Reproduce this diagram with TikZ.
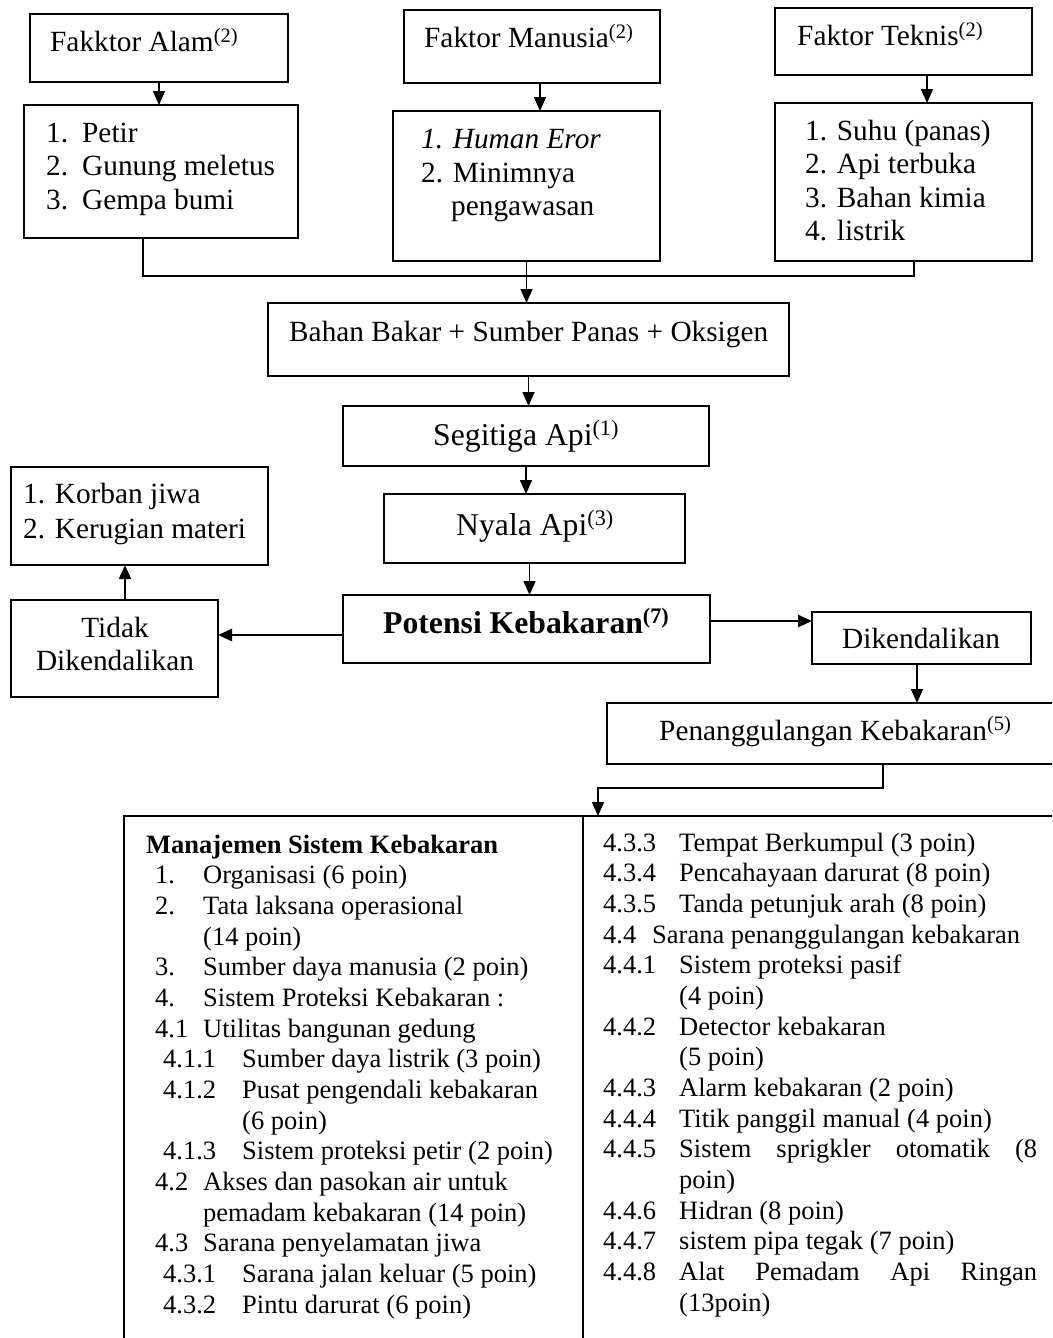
\documentclass[tikz,border=0pt]{standalone}
\usepackage{fontspec}
\setmainfont{Liberation Serif}
\usetikzlibrary{arrows.meta,calc}
\newcommand\sups[1]{\textsuperscript{#1}}
\begin{document}
\begin{tikzpicture}[x=1pt,y=-1pt,
  box/.style={draw,line width=1.7pt,inner sep=0pt,outer sep=0pt},
  tx/.style={anchor=base west,inner sep=0pt,font=\fontsize{29.3}{33}\selectfont},
  txc/.style={anchor=base,inner sep=0pt,font=\fontsize{29.3}{33}\selectfont},
  bigt/.style={anchor=base west,inner sep=0pt,font=\fontsize{31.7}{36}\selectfont},
  sm/.style={anchor=base west,inner sep=0pt,font=\fontsize{26.5}{30}\selectfont},
  arr/.style={-{Triangle[length=14pt,width=12pt]},line width=1.6pt},
  ln/.style={line width=1.6pt}]
\useasboundingbox (0,0) rectangle (1052,1338);
\fill[white] (0,0) rectangle (1052,1338);
\clip (0,0) rectangle (1052,1338);

% ---- boxes
\node[box,minimum width=258pt,minimum height=68pt] (alam) at (159,48) {};
\node[box,minimum width=274pt,minimum height=133pt] (alamL) at (161,171.5) {};
\node[box,minimum width=256pt,minimum height=73pt] (manusia) at (532,46.5) {};
\node[box,minimum width=267pt,minimum height=150pt] (manusiaL) at (526.5,186) {};
\node[box,minimum width=257pt,minimum height=67pt] (teknis) at (903.5,41.5) {};
\node[box,minimum width=257pt,minimum height=158pt] (teknisL) at (903.5,182) {};
\node[box,minimum width=521pt,minimum height=73pt] (bahan) at (528.5,339.5) {};
\node[box,minimum width=366pt,minimum height=60pt] (segitiga) at (526,436) {};
\node[box,minimum width=301pt,minimum height=69pt] (nyala) at (534.5,528.5) {};
\node[box,minimum width=367pt,minimum height=68pt] (potensi) at (526.5,629) {};
\node[box,minimum width=257pt,minimum height=98pt] (korban) at (139.5,516) {};
\node[box,minimum width=207pt,minimum height=97pt] (tidak) at (114.5,648.5) {};
\node[box,minimum width=219pt,minimum height=52pt] (diken) at (921.5,638) {};
\node[box,minimum width=463pt,minimum height=61pt] (penang) at (838.5,733.5) {};
\node[box,minimum width=459pt,minimum height=600pt] (tabL) at (353.5,1116) {};
\node[box,minimum width=500pt,minimum height=600pt] (tabR) at (833,1116) {};

% ---- texts in boxes
\node[tx] (alamT) at (50,52) {Fakktor Alam\sups{(2)}};
\node[tx] (alam1n) at (46,142) {1.};
\node[tx] (alam1t) at (82,142) {Petir};
\node[tx] (alam2n) at (46,175) {2.};
\node[tx] (alam2t) at (82,175) {Gunung meletus};
\node[tx] (alam3n) at (46,209) {3.};
\node[tx] (alam3t) at (82,209) {Gempa bumi};

\node[tx] (manT) at (424,48) {Faktor Manusia\sups{(2)}};
\node[tx] (man1) at (421,148) {\itshape 1. Human Eror};
\node[tx] (man2) at (421,182) {2. Minimnya};
\node[tx] (man3) at (451,215) {pengawasan};

\node[tx] (tekT) at (797,46) {Faktor Teknis\sups{(2)}};
\node[tx] (tek1) at (805,140) {1. Suhu (panas)};
\node[tx] (tek2) at (805,173) {2. Api terbuka};
\node[tx] (tek3) at (805,207) {3. Bahan kimia};
\node[tx] (tek4) at (805,240) {4. listrik};

\node[tx] (bahanT) at (289,341) {Bahan Bakar + Sumber Panas + Oksigen};
\node[bigt] (segT) at (433,445) {Segitiga Api\sups{(1)}};
\node[bigt] (nyalaT) at (456,535) {Nyala Api\sups{(3)}};
\node[bigt] (potT) at (383,633) {\bfseries Potensi Kebakaran\sups{(7)}};
\node[tx] (kor1) at (23,503) {1. Korban jiwa};
\node[tx] (kor2) at (23,538) {2. Kerugian materi};
\node[txc] (tid1) at (115,637) {Tidak};
\node[txc] (tid2) at (115,670) {Dikendalikan};
\node[tx] (dikT) at (842,648) {Dikendalikan};
\node[tx] (penT) at (659,740) {Penanggulangan Kebakaran\sups{(5)}};

% ---- left column of the table
\node[sm] (l0) at (146,853) {\bfseries Manajemen Sistem Kebakaran};
\node[sm] (l1n) at (155,883.7) {1.};
\node[sm] (l1t) at (203,883.7) {Organisasi (6 poin)};
\node[sm] (l2n) at (155,914.3) {2.};
\node[sm] (l2t) at (203,914.3) {Tata laksana operasional};
\node[sm] (l3t) at (203,945) {(14 poin)};
\node[sm] (l4n) at (155,975.7) {3.};
\node[sm] (l4t) at (203,975.7) {Sumber daya manusia (2 poin)};
\node[sm] (l5n) at (155,1006.4) {4.};
\node[sm] (l5t) at (203,1006.4) {Sistem Proteksi Kebakaran :};
\node[sm] (l6n) at (155,1037) {4.1};
\node[sm] (l6t) at (203,1037) {Utilitas bangunan gedung};
\node[sm] (l7n) at (163,1067.7) {4.1.1};
\node[sm] (l7t) at (242,1067.7) {Sumber daya listrik (3 poin)};
\node[sm] (l8n) at (163,1098.4) {4.1.2};
\node[sm] (l8t) at (242,1098.4) {Pusat pengendali kebakaran};
\node[sm] (l9t) at (242,1129) {(6 poin)};
\node[sm] (l10n) at (163,1159.7) {4.1.3};
\node[sm] (l10t) at (242,1159.7) {Sistem proteksi petir (2 poin)};
\node[sm] (l11n) at (155,1190.4) {4.2};
\node[sm] (l11t) at (203,1190.4) {Akses dan pasokan air untuk};
\node[sm] (l12t) at (203,1221) {pemadam kebakaran (14 poin)};
\node[sm] (l13n) at (155,1251.7) {4.3};
\node[sm] (l13t) at (203,1251.7) {Sarana penyelamatan jiwa};
\node[sm] (l14n) at (163,1282.4) {4.3.1};
\node[sm] (l14t) at (242,1282.4) {Sarana jalan keluar (5 poin)};
\node[sm] (l15n) at (163,1313) {4.3.2};
\node[sm] (l15t) at (242,1313) {Pintu darurat (6 poin)};

% ---- right column of the table
\node[sm] (r0n) at (603,851) {4.3.3};
\node[sm] (r0t) at (679,851) {Tempat Berkumpul (3 poin)};
\node[sm] (r1n) at (603,881.7) {4.3.4};
\node[sm] (r1t) at (679,881.7) {Pencahayaan darurat (8 poin)};
\node[sm] (r2n) at (603,912.3) {4.3.5};
\node[sm] (r2t) at (679,912.3) {Tanda petunjuk arah (8 poin)};
\node[sm] (r3n) at (603,943) {4.4};
\node[sm] (r3t) at (652,943) {Sarana penanggulangan kebakaran};
\node[sm] (r4n) at (603,973.7) {4.4.1};
\node[sm] (r4t) at (679,973.7) {Sistem proteksi pasif};
\node[sm] (r5t) at (679,1004.4) {(4 poin)};
\node[sm] (r6n) at (603,1035) {4.4.2};
\node[sm] (r6t) at (679,1035) {Detector kebakaran};
\node[sm] (r7t) at (679,1065.7) {(5 poin)};
\node[sm] (r8n) at (603,1096.4) {4.4.3};
\node[sm] (r8t) at (679,1096.4) {Alarm kebakaran (2 poin)};
\node[sm] (r9n) at (603,1127) {4.4.4};
\node[sm] (r9t) at (679,1127) {Titik panggil manual (4 poin)};
\node[sm] (r10n) at (603,1157.7) {4.4.5};
\node[sm] (r10t) at (679,1157.7) {\hbox to 358pt{Sistem\hfill sprigkler\hfill otomatik\hfill (8}};
\node[sm] (r11t) at (679,1188.4) {poin)};
\node[sm] (r12n) at (603,1219) {4.4.6};
\node[sm] (r12t) at (679,1219) {Hidran (8 poin)};
\node[sm] (r13n) at (603,1249.7) {4.4.7};
\node[sm] (r13t) at (679,1249.7) {sistem pipa tegak (7 poin)};
\node[sm] (r14n) at (603,1280.4) {4.4.8};
\node[sm] (r14t) at (679,1280.4) {\hbox to 358pt{Alat\hfill Pemadam\hfill Api\hfill Ringan}};
\node[sm] (r15t) at (679,1311) {(13poin)};

% ---- connectors
\draw[arr] (alam.south) -- (alam.south |- alamL.north);
\draw[arr] ([xshift=8pt]manusia.south) -- ([xshift=8pt]manusia.south |- manusiaL.north);
\draw[arr] ([xshift=23.5pt]teknis.south) -- ([xshift=23.5pt]teknis.south |- teknisL.north);
\coordinate (mj) at (528,276);
\draw[ln] ([xshift=-18pt]alamL.south) |- ([xshift=10.5pt]teknisL.south |- mj) -- ([xshift=10.5pt]teknisL.south);
\draw[arr] (manusiaL.south) -- (manusiaL.south |- bahan.north);
\draw[arr] (bahan.south) -- (bahan.south |- segitiga.north);
\draw[arr] (segitiga.south) -- (segitiga.south |- nyala.north);
\draw[arr] ([xshift=-5pt]nyala.south) -- ([xshift=-5pt]nyala.south |- potensi.north);
\draw[arr,line width=2.8pt] ([yshift=-6pt]potensi.west) -- ([yshift=-6pt]potensi.west -| tidak.east);
\draw[arr,line width=2.8pt] ([yshift=8pt]potensi.east) -- ([yshift=8pt]potensi.east -| diken.west);
\draw[arr] ([xshift=10.5pt]tidak.north) -- ([xshift=10.5pt]tidak.north |- korban.south);
\draw[arr] ([xshift=-4.5pt]diken.south) -- ([xshift=-4.5pt]diken.south |- penang.north);
\coordinate (k1) at (883,788);
\coordinate (k2) at (598,788);
\draw[arr] ([xshift=44.5pt]penang.south) -- (k1) -- (k2) -- (k2 |- tabL.north);
\end{tikzpicture}
\end{document}
